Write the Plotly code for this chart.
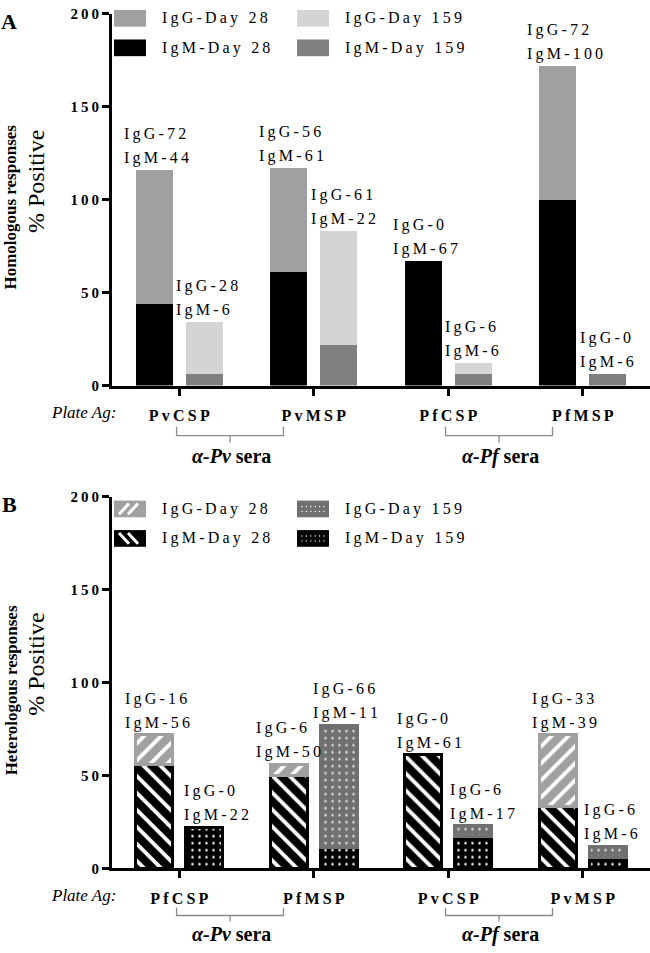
import plotly.graph_objects as go

W, H = 650, 953
FONT = "Liberation Serif, Tinos, Times New Roman, DejaVu Serif, serif"
TS = "\u2009"  # thin space used to mimic the letter-spaced typesetting

# ---------------- data ----------------
plate_ag_A = ["PvCSP", "PvMSP", "PfCSP", "PfMSP"]
plate_ag_B = ["PfCSP", "PfMSP", "PvCSP", "PvMSP"]
sera_groups = ["α-Pv", "α-Pf"]
y_ticks = [0, 50, 100, 150, 200]
legend_names = ["IgG-Day 28", "IgM-Day 28", "IgG-Day 159", "IgM-Day 159"]

# Panel A (homologous) % positive
A_igm_d28 = [44, 61, 67, 100]
A_igg_d28 = [72, 56, 0, 72]
A_igm_d159 = [6, 22, 6, 6]
A_igg_d159 = [28, 61, 6, 0]

# Panel B (heterologous) % positive, as drawn
B_igm_d28 = [56, 50, 61, 33]
B_igg_d28 = [16, 6, 0, 39]
B_igm_d159 = [22, 11, 17, 6]
B_igg_d159 = [0, 66, 6, 6]
# Panel B printed label values (as written on the chart)
B_lab_igg_d28 = [16, 6, 0, 33]
B_lab_igm_d28 = [56, 50, 61, 39]

# ---------------- layout constants ----------------
X0_PX = 112
OFF = 0.186      # bar offset from group centre (category units)
BW = 0.276       # bar width
A_TOP, A_ZERO = 6, 384
B_TOP, B_ZERO = 497, 875


def px_x(p):
    return p / W


def px_y(p):
    return 1 - p / H


def sp(s):
    return TS.join(s)


def nz(vals):
    return [v if v else None for v in vals]


groups = list(range(4))
x28 = [g - OFF for g in groups]
x159 = [g + OFF for g in groups]

fig = go.Figure()

# ---- Panel A bars ----
solid = dict(line=dict(width=0))
fig.add_bar(x=x28, y=nz(A_igm_d28), width=BW, marker=dict(color="#000000", **solid),
            xaxis="x", yaxis="y", name="IgM-Day 28")
fig.add_bar(x=x28, y=nz(A_igg_d28), width=BW, marker=dict(color="#a0a0a0", **solid),
            xaxis="x", yaxis="y", name="IgG-Day 28")
fig.add_bar(x=x159, y=nz(A_igm_d159), width=BW, marker=dict(color="#808080", **solid),
            xaxis="x", yaxis="y", name="IgM-Day 159")
fig.add_bar(x=x159, y=nz(A_igg_d159), width=BW, marker=dict(color="#d4d4d4", **solid),
            xaxis="x", yaxis="y", name="IgG-Day 159")

# ---- Panel B bars (patterned) ----
def pat_marker(bg, fg, shape, size, sol):
    return dict(color=bg, line=dict(color=bg, width=3),
                pattern=dict(shape=shape, bgcolor=bg, fgcolor=fg, size=size,
                             solidity=sol, fillmode="replace"))

fig.add_bar(x=x28, y=nz(B_igm_d28), width=BW, marker=pat_marker("#000000", "#ffffff", "\\", 12, 0.32),
            xaxis="x2", yaxis="y2", name="IgM-Day 28")
fig.add_bar(x=x28, y=nz(B_igg_d28), width=BW, marker=pat_marker("#a0a0a0", "#ffffff", "/", 12, 0.32),
            xaxis="x2", yaxis="y2", name="IgG-Day 28")
fig.add_bar(x=x159, y=nz(B_igm_d159), width=BW, marker=pat_marker("#000000", "#ffffff", ".", 7, 0.1),
            xaxis="x2", yaxis="y2", name="IgM-Day 159")
fig.add_bar(x=x159, y=nz(B_igg_d159), width=BW, marker=pat_marker("#707070", "#e0e0e0", ".", 7, 0.1),
            xaxis="x2", yaxis="y2", name="IgG-Day 159")

# ---------------- axes ----------------
xcommon = dict(range=[-0.5, 3.5], domain=[X0_PX / W, 1], tickvals=groups,
               showline=True, linewidth=3, linecolor="#000000", ticks="outside",
               ticklen=7, tickwidth=3, tickcolor="#000000", showgrid=False, zeroline=False,
               tickfont=dict(family=FONT, size=16, color="#000000"), ticklabelstandoff=6,
               fixedrange=True)
ycommon = dict(range=[0, 200], tickvals=y_ticks,
               ticktext=["<b>" + sp(str(v)) + "</b>" for v in y_ticks],
               showline=True, linewidth=3, linecolor="#000000", ticks="outside",
               ticklen=7, tickwidth=3, tickcolor="#000000", showgrid=False, zeroline=False,
               tickfont=dict(family=FONT, size=15, color="#000000"), fixedrange=True)

fig.update_layout(
    width=W, height=H, margin=dict(l=0, r=0, t=0, b=0),
    paper_bgcolor="#ffffff", plot_bgcolor="#ffffff",
    barmode="stack", bargap=0, showlegend=False, hovermode=False,
    font=dict(family=FONT, color="#000000"),
    xaxis=dict(anchor="y", ticktext=["<b>" + sp(s) + "</b>" for s in plate_ag_A], **xcommon),
    yaxis=dict(anchor="x", domain=[px_y(A_ZERO), px_y(A_TOP)], **ycommon),
    xaxis2=dict(anchor="y2", ticktext=["<b>" + sp(s) + "</b>" for s in plate_ag_B], **xcommon),
    yaxis2=dict(anchor="x2", domain=[px_y(B_ZERO), px_y(B_TOP)], **ycommon),
)

ann = []
shapes = []

# ---- bar value labels ----
LABEL_FONT = dict(family=FONT, size=16, color="#000000")


def add_labels(xs, tops, igg_vals, igm_vals, xref, yref, shifts):
    for x, t, gv, mv, s in zip(xs, tops, igg_vals, igm_vals, shifts):
        for txt, dy in ((sp("IgM-" + str(mv)), 12), (sp("IgG-" + str(gv)), 36)):
            ann.append(dict(x=x, y=t, xref=xref, yref=yref, text=txt, showarrow=False,
                            xanchor="left", yanchor="middle", xshift=s, yshift=dy,
                            font=LABEL_FONT))


A_tot28 = [a + b for a, b in zip(A_igm_d28, A_igg_d28)]
A_tot159 = [a + b for a, b in zip(A_igm_d159, A_igg_d159)]
B_tot28 = [a + b for a, b in zip(B_igm_d28, B_igg_d28)]
B_tot159 = [a + b for a, b in zip(B_igm_d159, B_igg_d159)]

add_labels(x28, A_tot28, A_igg_d28, A_igm_d28, "x", "y", [-32, -32, -32, -33])
add_labels(x159, A_tot159, A_igg_d159, A_igm_d159, "x", "y", [-30, -30, -30, -30])
add_labels(x28, B_tot28, B_lab_igg_d28, B_lab_igm_d28, "x2", "y2", [-31, -35, -28, -28])
add_labels(x159, B_tot159, B_igg_d159, B_igm_d159, "x2", "y2", [-22, -28, -25, -26])

# ---- panel letters and axis titles ----
for letter, yc in (("A", 14), ("B", 505)):
    ann.append(dict(x=px_x(9), y=px_y(yc), xref="paper", yref="paper", text="<b>" + letter + "</b>",
                    showarrow=False, xanchor="center", yanchor="middle",
                    font=dict(family=FONT, size=22, color="#000000")))

for title, zero in (("Homologous responses", A_ZERO), ("Heterologous responses", B_ZERO)):
    ann.append(dict(x=px_x(11), y=px_y(zero - 181), xref="paper", yref="paper",
                    text="<b>" + title + "</b>", textangle=-90, showarrow=False,
                    xanchor="center", yanchor="middle",
                    font=dict(family=FONT, size=17, color="#000000")))
    ann.append(dict(x=px_x(36), y=px_y(zero - 207), xref="paper", yref="paper",
                    text="% Positive", textangle=-90, showarrow=False,
                    xanchor="center", yanchor="middle",
                    font=dict(family=FONT, size=24, color="#000000")))

# ---- Plate Ag, brackets, sera labels ----
for zero, xref, offs in ((A_ZERO, "x", (27, 42, 51, 58, 72)), (B_ZERO, "x2", (28, 40, 48, 54, 67))):
    ann.append(dict(x=px_x(118), y=px_y(zero + offs[0]), xref="paper", yref="paper",
                    text="<i>Plate Ag:</i>", showarrow=False, xanchor="right", yanchor="middle",
                    font=dict(family=FONT, size=17, color="#000000")))
    for gi, name in zip((0, 2), sera_groups):
        xl, xr = gi - 0.02, gi + 0.775
        xc = (xl + xr) / 2
        yt, yh, ys = px_y(zero + offs[1]), px_y(zero + offs[2]), px_y(zero + offs[3])
        shapes.append(dict(type="path", xref=xref, yref="paper",
                           path=f"M{xl},{yt} L{xl},{yh} L{xr},{yh} L{xr},{yt} M{xc},{yh} L{xc},{ys}",
                           line=dict(color="#8a8a8a", width=1.3)))
        ann.append(dict(x=xc + 0.01, y=px_y(zero + offs[4]), xref=xref, yref="paper",
                        text="<b><i>" + name + "</i> sera</b>", showarrow=False,
                        xanchor="center", yanchor="middle",
                        font=dict(family=FONT, size=20, color="#000000")))

# ---- legends (drawn as swatches + text) ----
LEG_COLS = (114, 297)
SW_W, SW_H = 32, 17


def legend_text(x, yc, text):
    ann.append(dict(x=px_x(x), y=px_y(yc), xref="paper", yref="paper", text=sp(text),
                    showarrow=False, xanchor="left", yanchor="middle",
                    font=dict(family=FONT, size=16, color="#000000")))


def rect(x0, y0, color):
    shapes.append(dict(type="rect", xref="paper", yref="paper", x0=px_x(x0), x1=px_x(x0 + SW_W),
                       y0=px_y(y0), y1=px_y(y0 + SW_H), fillcolor=color, line=dict(width=0)))


# Panel A legend
A_leg = [("IgG-Day 28", LEG_COLS[0], 2, "#a0a0a0"), ("IgM-Day 28", LEG_COLS[0], 32, "#000000"),
         ("IgG-Day 159", LEG_COLS[1], 2, "#d4d4d4"), ("IgM-Day 159", LEG_COLS[1], 32, "#808080")]
for name, x0, y0, col in A_leg:
    rect(x0, y0, col)
    legend_text(x0 + 46, y0 + SW_H / 2, name)

# Panel B legend
bl = B_TOP + 4
B_leg = [("IgG-Day 28", LEG_COLS[0], bl, "#a0a0a0", "/"), ("IgM-Day 28", LEG_COLS[0], bl + 30, "#000000", "\\"),
         ("IgG-Day 159", LEG_COLS[1], bl, "#707070", "."), ("IgM-Day 159", LEG_COLS[1], bl + 30, "#000000", ".")]
for name, x0, y0, col, pat in B_leg:
    rect(x0, y0, col)
    if pat in ("/", "\\"):
        for a in (5, 14):
            if pat == "/":
                p0, p1 = (x0 + a, y0 + SW_H - 3), (x0 + a + 10, y0 + 3)
            else:
                p0, p1 = (x0 + a, y0 + 3), (x0 + a + 10, y0 + SW_H - 3)
            shapes.append(dict(type="line", xref="paper", yref="paper",
                               x0=px_x(p0[0]), y0=px_y(p0[1]), x1=px_x(p1[0]), y1=px_y(p1[1]),
                               line=dict(color="#ffffff", width=3)))
    else:
        for r in (6, 11):
            for k in range(6):
                cx, cy = x0 + 5 + k * 4.4, y0 + r
                shapes.append(dict(type="circle", xref="paper", yref="paper",
                                   x0=px_x(cx - 0.7), x1=px_x(cx + 0.7), y0=px_y(cy - 0.7), y1=px_y(cy + 0.7),
                                   fillcolor="#ffffff", line=dict(width=0)))
    legend_text(x0 + 46, y0 + SW_H / 2, name)

fig.update_layout(annotations=ann, shapes=shapes)
fig.write_html("out.html", config={"displayModeBar": False, "staticPlot": True},
               post_script="document.body.style.margin='0';document.body.style.overflow='hidden';")
